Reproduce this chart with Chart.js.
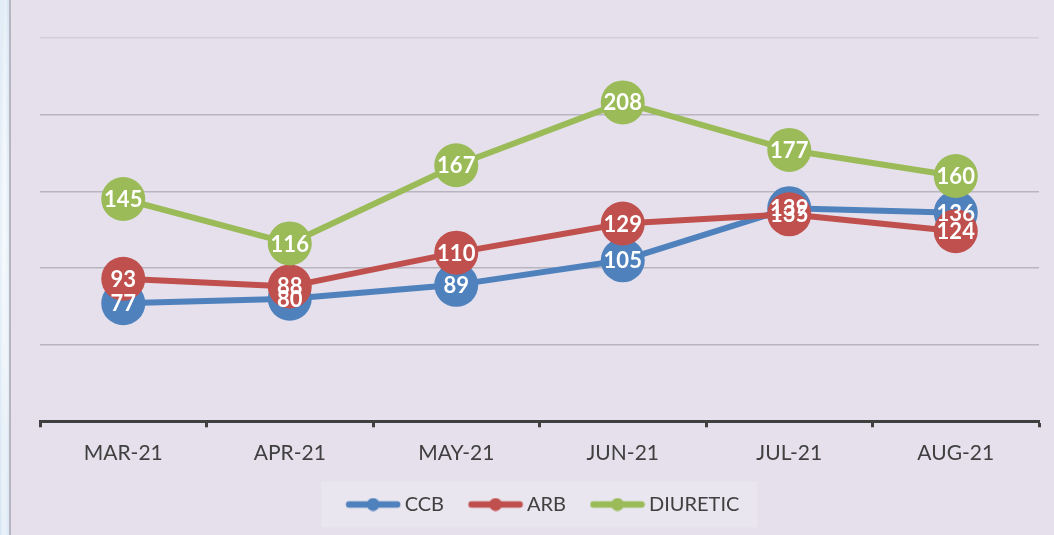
<!DOCTYPE html>
<html>
<head>
<meta charset="utf-8">
<script src="https://cdn.jsdelivr.net/npm/chart.js@4/dist/chart.umd.min.js"></script>
<style>
  html, body { margin: 0; padding: 0; }
  body {
    width: 1054px; height: 535px; overflow: hidden; position: relative;
    background: #e5e0ec;
  }
  .edge {
    position: absolute; left: 0; top: 0; width: 9px; height: 535px;
    background:
      radial-gradient(ellipse at 30% 12%, rgba(255,255,255,0.35) 0 3px, transparent 5px),
      radial-gradient(ellipse at 70% 38%, rgba(255,255,255,0.3) 0 3px, transparent 5px),
      radial-gradient(ellipse at 40% 63%, rgba(255,255,255,0.3) 0 3px, transparent 5px),
      radial-gradient(ellipse at 60% 86%, rgba(255,255,255,0.3) 0 3px, transparent 5px),
      #d3e3f3;
    border-right: 2px solid #b7b6c0;
  }
  #chart { position: absolute; left: 0; top: 0; }
</style>
</head>
<body>
<div class="edge"></div>
<canvas id="chart" width="1054" height="535"></canvas>
<script>
// Monthly prescription counts per antihypertensive class
const months = ['MAR-21', 'APR-21', 'MAY-21', 'JUN-21', 'JUL-21', 'AUG-21'];
const ccb = [77, 80, 89, 105, 139, 136];
const arb = [93, 88, 110, 129, 135, 124];
const diuretic = [145, 116, 167, 208, 177, 160];
const yTicks = [0, 50, 100, 150, 200, 250];

const BLUE = '#4f81bd';
const RED = '#c0504d';
const GREEN = '#9bbb59';
const TEXT = '#404040';
const FONT = 'Lato, "Liberation Sans", sans-serif';

// Legend swatch: a short thick line with a dot in the middle
function swatch(color) {
  const c = document.createElement('canvas');
  c.width = 56; c.height = 14;
  const g = c.getContext('2d');
  g.strokeStyle = color; g.lineWidth = 6.5; g.lineCap = 'round';
  g.beginPath(); g.moveTo(4, 7); g.lineTo(52, 7); g.stroke();
  g.fillStyle = color;
  g.beginPath(); g.arc(28, 7, 6.5, 0, Math.PI * 2); g.fill();
  return c;
}
const swatches = [swatch(BLUE), swatch(RED), swatch(GREEN)];

// White value labels centred on each marker
const valueLabels = {
  id: 'valueLabels',
  afterDatasetsDraw(chart) {
    const ctx = chart.ctx;
    ctx.save();
    ctx.font = 'bold 22px ' + FONT;
    ctx.fillStyle = '#ffffff';
    ctx.textAlign = 'center';
    ctx.textBaseline = 'middle';
    chart.data.datasets.forEach((ds, i) => {
      const meta = chart.getDatasetMeta(i);
      meta.data.forEach((pt, j) => {
        ctx.fillText(String(ds.data[j]), pt.x, pt.y + 1);
      });
    });
    ctx.restore();
  }
};

// Pale panel behind the legend entries; legend nudged slightly right
const legendPanel = {
  id: 'legendPanel',
  afterLayout(chart) {
    const lg = chart.legend;
    if (lg) { lg.left += 6; lg.right += 6; }
  },
  beforeDraw(chart) {
    const lg = chart.legend;
    if (!lg || !lg.legendHitBoxes || !lg.legendHitBoxes.length) return;
    const boxes = lg.legendHitBoxes;
    const left = Math.min(...boxes.map(b => b.left)) - 6.5 - 24;
    const right = Math.max(...boxes.map(b => b.left + b.width)) + 18;
    const cy = boxes[0].top + boxes[0].height / 2;
    const ctx = chart.ctx;
    ctx.save();
    ctx.fillStyle = '#e9e6ef';
    ctx.fillRect(left, cy - 23, right - left, 46);
    ctx.restore();
  }
};

new Chart(document.getElementById('chart'), {
  type: 'line',
  data: {
    labels: months,
    datasets: [
      { label: 'CCB', data: ccb, borderColor: BLUE, backgroundColor: BLUE, order: 3 },
      { label: 'ARB', data: arb, borderColor: RED, backgroundColor: RED, order: 2 },
      { label: 'DIURETIC', data: diuretic, borderColor: GREEN, backgroundColor: GREEN, order: 1 }
    ]
  },
  options: {
    responsive: false,
    animation: false,
    devicePixelRatio: 1,
    layout: { autoPadding: false, padding: { top: 38, left: 40, right: 15, bottom: 10.5 } },
    elements: {
      line: { borderWidth: 6, tension: 0, borderCapStyle: 'round', borderJoinStyle: 'round' },
      point: { radius: 22, hoverRadius: 22, borderWidth: 0, pointStyle: 'circle' }
    },
    datasets: { line: { clip: false, pointRadius: 22 } },
    scales: {
      x: {
        offset: true,
        afterFit(scale) {
          scale.height -= 14;
          scale.paddingLeft = 0;
          scale.paddingRight = 0;
        },
        grid: {
          offset: true,
          drawOnChartArea: false,
          drawTicks: true,
          tickLength: 6,
          tickColor: TEXT,
          tickWidth: 3
        },
        border: { display: true, color: TEXT, width: 3 },
        ticks: {
          color: TEXT,
          padding: 13,
          font: { family: FONT, size: 21 },
          maxRotation: 0
        }
      },
      y: {
        min: yTicks[0],
        max: yTicks[yTicks.length - 1],
        afterBuildTicks(scale) { scale.ticks = yTicks.map(v => ({ value: v })); },
        ticks: { display: false },
        border: { display: false },
        grid: {
          drawTicks: false,
          lineWidth: 1.5,
          color(ctx) {
            const v = ctx.tick && ctx.tick.value;
            if (v === 0) return 'rgba(0,0,0,0)';
            if (v === 250) return '#d3ced9';
            return '#b9b5bf';
          }
        }
      }
    },
    plugins: {
      title: { display: false },
      tooltip: { enabled: false },
      legend: {
        position: 'bottom',
        labels: {
          usePointStyle: true,
          pointStyleWidth: 43,
          padding: 30,
          color: TEXT,
          font: { family: FONT, size: 20 },
          sort: (a, b) => a.datasetIndex - b.datasetIndex,
          generateLabels(chart) {
            const items = Chart.defaults.plugins.legend.labels.generateLabels(chart);
            items.forEach(it => { it.pointStyle = swatches[it.datasetIndex]; });
            return items;
          }
        }
      }
    }
  },
  plugins: [legendPanel, valueLabels]
});
</script>
</body>
</html>
